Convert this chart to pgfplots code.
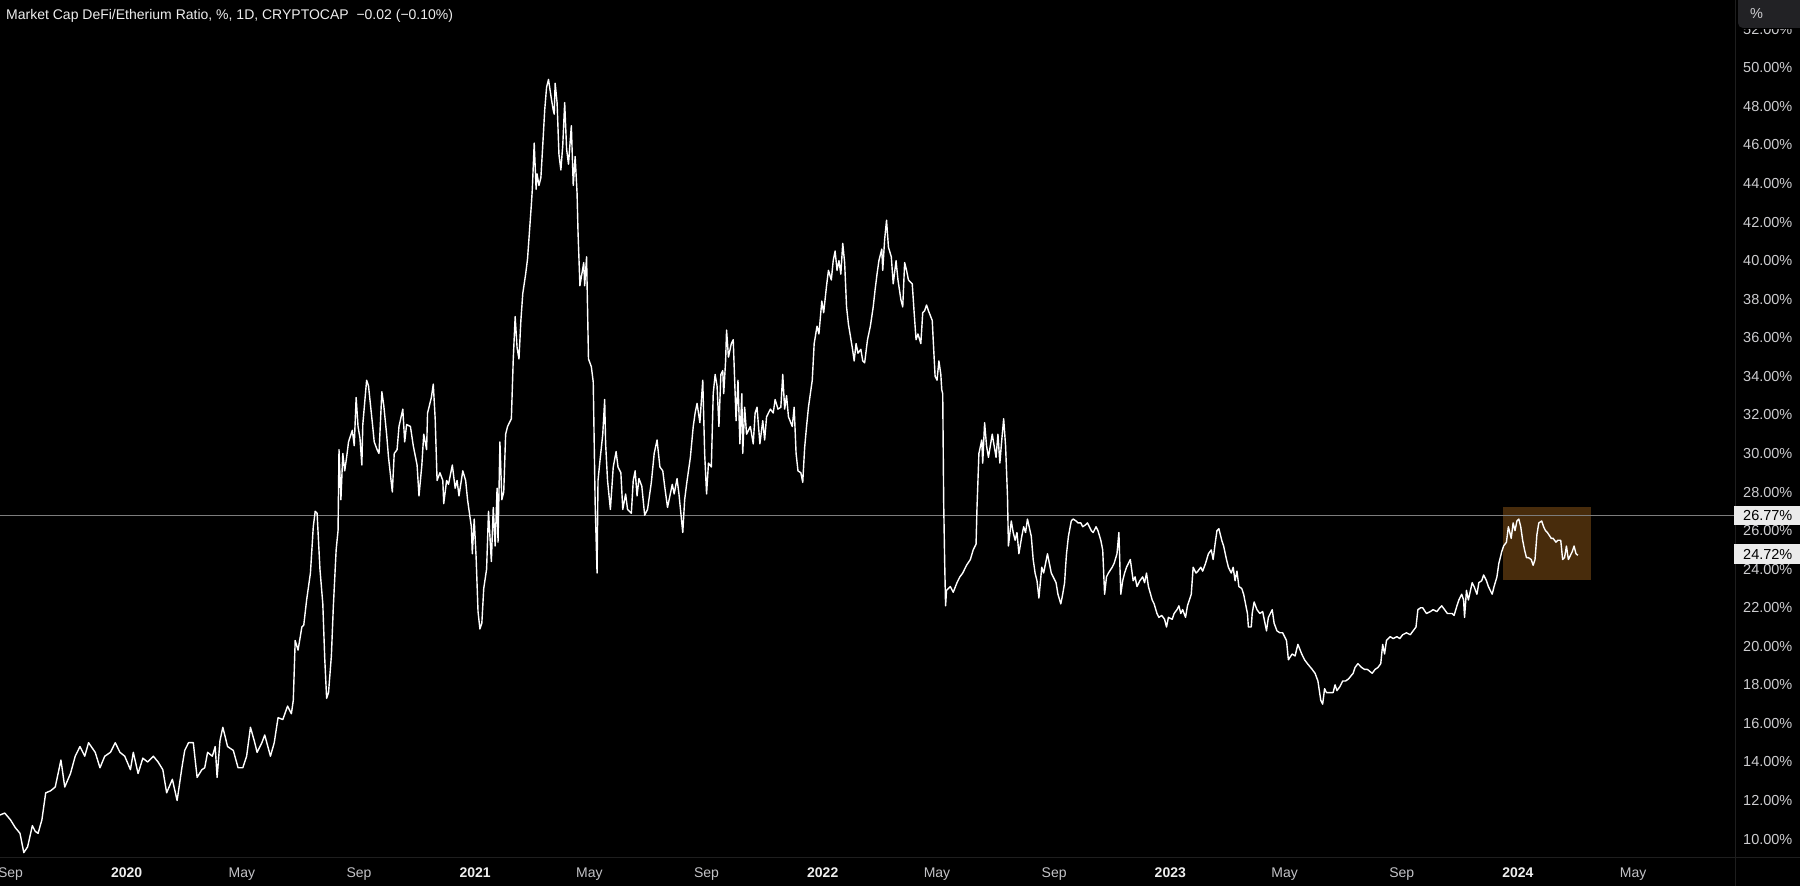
\documentclass[border=0pt]{standalone}
\usepackage{pgfplots}
\pgfplotsset{compat=1.18}
\usepackage{fontspec}
\setmainfont{Liberation Sans}
\definecolor{bg}{RGB}{0,0,0}
\definecolor{tickc}{RGB}{205,205,208}
\definecolor{yr}{RGB}{238,238,238}
\definecolor{mo}{RGB}{195,195,199}
\definecolor{boxc}{RGB}{72,44,12}
\definecolor{hline}{RGB}{125,125,125}
\definecolor{sepc}{RGB}{30,30,30}
\definecolor{btn}{RGB}{34,34,37}
\begin{document}
\begin{tikzpicture}[x=1pt,y=1pt]
\useasboundingbox (0,0) rectangle (1800,886);
\fill[bg] (0,0) rectangle (1800,886);
\begin{axis}[
  at={(0pt,28pt)}, anchor=south west,
  width=1735pt, height=858pt, scale only axis,
  xmin=0, xmax=1822, ymin=9.02, ymax=53.52,
  axis line style={draw=none},
  tick style={draw=none},
  ytick={10,12,...,52},
  yticklabel pos=right,
  yticklabel={\pgfmathprintnumber[assume math mode=true,fixed,fixed zerofill,precision=2]{\tick}\%},
  yticklabel style={anchor=west, inner sep=0pt, xshift=8pt, font=\fontsize{14.5}{16}\selectfont, text=tickc},
  xtick={11,133,254,377,499,619,742,864,984,1107,1229,1349,1472,1594,1715},
  xticklabels={{\color{mo}Sep},{\color{yr}\bfseries 2020},{\color{mo}May},{\color{mo}Sep},{\color{yr}\bfseries 2021},{\color{mo}May},{\color{mo}Sep},{\color{yr}\bfseries 2022},{\color{mo}May},{\color{mo}Sep},{\color{yr}\bfseries 2023},{\color{mo}May},{\color{mo}Sep},{\color{yr}\bfseries 2024},{\color{mo}May}},
  xticklabel style={anchor=base, inner sep=0pt, yshift=-20pt, font=\fontsize{14}{16}\selectfont},
  clip=false,
]
\fill[boxc] (axis cs:1578,23.44) rectangle (axis cs:1671,27.22);
\draw[hline, line width=1pt] (axis cs:0,26.77) -- (axis cs:1822,26.77);
\addplot[white, line width=1.4pt, line join=round] table[row sep=\\] {
x y\\
0 11.25\\ 5 11.35\\ 11 11.0\\ 16 10.6\\ 21 10.3\\ 25 9.3\\ 29 9.6\\ 34 10.7\\ 37 10.4\\ 40 10.3\\
44 11.0\\ 48 12.4\\ 53 12.5\\ 58 12.7\\ 64 14.1\\ 68 12.7\\ 74 13.4\\ 79 14.3\\ 84 14.8\\ 89 14.3\\
93 15.0\\ 100 14.5\\ 105 13.7\\ 110 14.3\\ 116 14.5\\ 121 15.0\\ 126 14.5\\ 131 14.3\\ 137 13.6\\ 140 14.5\\
145 13.4\\ 150 14.2\\ 155 14.0\\ 161 14.3\\ 166 14.0\\ 171 13.6\\ 175 12.4\\ 181 13.1\\ 186 12.0\\ 191 13.7\\
194 14.6\\ 198 15.0\\ 203 15.0\\ 207 13.2\\ 212 13.6\\ 215 13.7\\ 218 14.5\\ 223 14.3\\ 226 14.8\\ 228 13.2\\
231 15.1\\ 234 15.8\\ 239 14.8\\ 245 14.6\\ 250 13.7\\ 255 13.7\\ 259 14.3\\ 263 15.8\\ 267 15.1\\ 270 14.5\\
275 15.0\\ 278 15.4\\ 284 14.3\\ 288 15.0\\ 292 16.3\\ 297 16.2\\ 302 16.9\\ 306 16.5\\ 308 17.2\\ 310 20.3\\
313 19.8\\ 317 21.0\\ 319 21.1\\ 322 22.4\\ 326 23.8\\ 329 26.2\\ 331 27.0\\ 333 26.9\\ 336 24.0\\ 339 22.2\\
341 19.4\\ 343 17.3\\ 345 17.6\\ 348 19.5\\ 350 22.0\\ 353 25.0\\ 355 26.0\\ 356 30.2\\ 358 27.6\\ 360 30.0\\
362 29.1\\ 364 29.8\\ 366 30.6\\ 370 31.2\\ 372 30.4\\ 374 32.9\\ 376 31.4\\ 378 30.8\\ 380 29.4\\ 381 31.5\\
385 33.8\\ 387 33.5\\ 391 31.6\\ 393 30.6\\ 396 30.2\\ 398 30.0\\ 401 33.2\\ 403 32.5\\ 406 31.0\\ 408 29.8\\
412 28.0\\ 414 30.0\\ 417 30.2\\ 419 31.4\\ 423 32.3\\ 425 30.6\\ 427 31.5\\ 431 31.4\\ 434 30.4\\ 438 29.4\\
440 27.8\\ 443 29.4\\ 445 31.0\\ 448 30.2\\ 449 32.1\\ 453 32.9\\ 455 33.6\\ 457 31.8\\ 459 28.6\\ 462 29.0\\
465 28.6\\ 466 27.4\\ 469 28.6\\ 471 28.4\\ 475 29.4\\ 478 28.2\\ 480 28.6\\ 482 27.8\\ 486 29.1\\ 489 28.6\\
491 27.6\\ 495 26.2\\ 496 24.8\\ 498 26.6\\ 500 24.6\\ 502 21.8\\ 504 20.9\\ 506 21.2\\ 508 23.0\\ 511 24.0\\
513 27.0\\ 516 24.4\\ 518 27.2\\ 520 25.2\\ 522 28.2\\ 523 25.4\\ 525 30.6\\ 527 27.6\\ 529 28.0\\ 531 31.0\\
533 31.4\\ 537 31.8\\ 539 34.9\\ 541 37.1\\ 543 35.5\\ 545 34.9\\ 547 36.9\\ 549 38.3\\ 552 39.3\\ 554 40.1\\
558 42.9\\ 559 43.7\\ 561 46.1\\ 563 43.7\\ 564 44.5\\ 566 43.9\\ 568 44.3\\ 570 46.0\\ 572 47.8\\ 574 49.0\\
576 49.4\\ 579 48.4\\ 581 47.8\\ 582 47.6\\ 583 49.2\\ 585 48.2\\ 587 45.5\\ 589 44.7\\ 591 46.0\\ 593 48.2\\
595 45.8\\ 597 45.0\\ 600 47.0\\ 602 43.9\\ 604 45.4\\ 606 43.5\\ 607 41.5\\ 609 38.7\\ 611 39.3\\ 613 39.9\\
614 38.7\\ 616 40.2\\ 618 34.9\\ 621 34.5\\ 623 33.7\\ 625 27.4\\ 627 23.8\\ 628 28.6\\ 630 29.6\\ 633 31.0\\
635 32.8\\ 636 30.5\\ 638 28.6\\ 641 27.1\\ 644 29.3\\ 647 30.1\\ 649 29.3\\ 652 29.0\\ 654 27.1\\ 657 27.9\\
659 27.1\\ 663 26.9\\ 665 28.6\\ 667 29.1\\ 669 27.8\\ 671 28.7\\ 674 28.3\\ 677 26.8\\ 680 27.1\\ 684 28.5\\
687 30.0\\ 690 30.7\\ 693 29.3\\ 696 29.1\\ 698 28.3\\ 701 27.2\\ 706 28.4\\ 708 27.9\\ 711 28.7\\ 713 27.9\\
715 26.9\\ 717 25.9\\ 719 27.6\\ 721 28.4\\ 725 29.8\\ 728 31.4\\ 730 32.1\\ 732 32.6\\ 735 31.6\\ 738 33.8\\
740 30.0\\ 742 27.9\\ 744 29.5\\ 747 29.3\\ 749 33.1\\ 751 34.1\\ 753 33.5\\ 755 31.4\\ 757 34.1\\ 759 34.3\\
760 33.1\\ 762 34.8\\ 763 36.4\\ 765 35.0\\ 768 35.7\\ 770 35.9\\ 771 34.5\\ 773 31.7\\ 775 33.8\\ 777 30.5\\
779 33.1\\ 780 30.0\\ 782 32.4\\ 784 31.0\\ 788 31.4\\ 791 30.5\\ 793 32.1\\ 795 32.4\\ 798 30.5\\ 801 31.7\\
803 30.7\\ 805 31.9\\ 809 32.3\\ 812 32.1\\ 814 32.8\\ 817 32.3\\ 820 32.4\\ 822 34.1\\ 824 32.3\\ 826 33.0\\
828 31.9\\ 832 31.4\\ 834 32.4\\ 836 30.0\\ 838 29.1\\ 841 29.0\\ 843 28.5\\ 845 30.3\\ 847 31.4\\ 849 32.4\\
853 33.8\\ 855 35.7\\ 858 36.6\\ 860 36.2\\ 863 37.9\\ 865 37.3\\ 868 38.7\\ 870 39.5\\ 873 39.0\\ 875 40.0\\
877 40.5\\ 879 39.5\\ 881 40.0\\ 883 39.3\\ 885 40.9\\ 887 39.9\\ 889 37.6\\ 891 36.7\\ 895 35.5\\ 897 34.8\\
899 35.7\\ 901 35.2\\ 904 35.4\\ 906 34.8\\ 908 34.7\\ 911 35.9\\ 914 36.6\\ 917 37.6\\ 919 38.5\\ 921 39.3\\
923 40.0\\ 926 40.6\\ 927 39.5\\ 929 41.1\\ 931 42.1\\ 933 40.7\\ 936 40.2\\ 938 38.8\\ 941 40.0\\ 943 39.0\\
946 38.0\\ 948 37.6\\ 950 39.9\\ 952 39.5\\ 954 39.0\\ 958 38.8\\ 960 37.3\\ 962 35.9\\ 964 36.2\\ 967 35.7\\
969 37.3\\ 971 37.4\\ 973 37.7\\ 975 37.4\\ 979 36.9\\ 980 35.9\\ 982 34.0\\ 984 33.8\\ 986 34.8\\ 988 34.1\\
989 33.3\\ 990 33.1\\ 991 27.5\\ 992 24.5\\ 993 22.1\\ 994 22.9\\ 998 23.1\\ 1001 22.8\\ 1005 23.3\\ 1008 23.6\\
1011 23.8\\ 1015 24.2\\ 1019 24.5\\ 1022 25.0\\ 1025 25.3\\ 1026 27.2\\ 1028 30.0\\ 1031 30.7\\ 1032 29.5\\ 1034 31.6\\
1036 30.4\\ 1038 29.8\\ 1042 31.0\\ 1044 30.4\\ 1046 29.8\\ 1048 31.0\\ 1050 29.5\\ 1052 30.7\\ 1054 31.8\\ 1056 30.4\\
1058 27.8\\ 1059 25.2\\ 1062 26.5\\ 1064 25.9\\ 1066 25.5\\ 1068 25.9\\ 1070 24.8\\ 1073 25.7\\ 1075 26.2\\ 1077 25.9\\
1079 26.6\\ 1083 25.7\\ 1085 24.5\\ 1087 23.8\\ 1089 23.4\\ 1091 22.5\\ 1094 24.1\\ 1096 23.8\\ 1098 24.3\\ 1100 24.8\\
1104 23.8\\ 1106 23.6\\ 1109 23.3\\ 1111 22.7\\ 1114 22.2\\ 1116 22.7\\ 1118 23.3\\ 1119 24.1\\ 1120 24.8\\ 1122 25.7\\
1125 26.5\\ 1127 26.6\\ 1130 26.5\\ 1132 26.4\\ 1135 26.4\\ 1137 26.2\\ 1140 26.3\\ 1142 26.4\\ 1146 26.0\\ 1148 25.9\\
1151 26.2\\ 1153 26.0\\ 1156 25.5\\ 1158 25.0\\ 1160 22.7\\ 1162 23.6\\ 1164 23.8\\ 1168 24.1\\ 1170 24.3\\ 1173 24.8\\
1175 25.9\\ 1177 22.7\\ 1179 23.4\\ 1181 23.8\\ 1183 24.1\\ 1187 24.5\\ 1190 23.4\\ 1192 23.6\\ 1194 23.1\\ 1197 23.4\\
1200 23.6\\ 1202 23.3\\ 1204 23.8\\ 1206 23.1\\ 1210 22.4\\ 1212 22.2\\ 1215 21.7\\ 1217 21.5\\ 1220 21.6\\ 1223 21.4\\
1225 21.0\\ 1227 21.5\\ 1231 21.4\\ 1233 21.7\\ 1236 21.9\\ 1238 22.1\\ 1240 21.7\\ 1242 21.9\\ 1245 21.5\\ 1247 22.1\\
1251 22.7\\ 1253 24.1\\ 1256 23.8\\ 1258 23.9\\ 1261 24.1\\ 1263 23.9\\ 1266 24.3\\ 1269 24.8\\ 1272 25.0\\ 1274 24.5\\
1276 25.3\\ 1278 26.0\\ 1280 26.1\\ 1283 25.5\\ 1285 25.2\\ 1288 24.5\\ 1290 24.1\\ 1293 23.8\\ 1295 24.1\\ 1297 23.4\\
1299 23.9\\ 1301 23.1\\ 1304 23.0\\ 1306 22.7\\ 1308 22.2\\ 1310 21.7\\ 1311 21.0\\ 1314 21.0\\ 1315 21.7\\ 1317 22.3\\
1320 21.9\\ 1323 21.7\\ 1326 21.8\\ 1330 20.8\\ 1332 21.5\\ 1336 21.9\\ 1338 21.2\\ 1341 20.8\\ 1344 20.7\\ 1347 20.7\\
1351 20.3\\ 1353 19.3\\ 1357 19.6\\ 1360 19.5\\ 1363 20.1\\ 1367 19.6\\ 1370 19.3\\ 1373 19.1\\ 1378 18.8\\ 1381 18.6\\
1384 18.2\\ 1387 17.2\\ 1389 17.0\\ 1391 17.8\\ 1393 17.6\\ 1397 17.6\\ 1400 17.6\\ 1402 18.0\\ 1404 17.7\\ 1407 17.9\\
1410 18.2\\ 1413 18.2\\ 1416 18.3\\ 1421 18.6\\ 1423 18.9\\ 1426 19.1\\ 1430 18.9\\ 1433 18.8\\ 1436 18.8\\ 1441 18.6\\
1444 18.8\\ 1447 18.9\\ 1450 19.1\\ 1452 20.1\\ 1454 19.6\\ 1456 20.3\\ 1460 20.5\\ 1463 20.4\\ 1467 20.5\\ 1470 20.4\\
1473 20.6\\ 1477 20.7\\ 1481 20.6\\ 1484 20.8\\ 1487 21.0\\ 1489 21.9\\ 1492 22.0\\ 1494 22.0\\ 1498 21.7\\ 1502 21.8\\
1505 21.9\\ 1509 21.8\\ 1512 22.0\\ 1514 22.1\\ 1517 21.9\\ 1520 21.7\\ 1525 21.7\\ 1527 21.6\\ 1530 22.1\\ 1532 22.4\\
1535 22.7\\ 1537 22.4\\ 1538 21.5\\ 1540 22.9\\ 1542 22.4\\ 1546 23.3\\ 1548 23.1\\ 1551 22.7\\ 1553 23.3\\ 1556 23.4\\
1558 23.7\\ 1561 23.4\\ 1563 23.1\\ 1567 22.7\\ 1569 23.1\\ 1572 23.6\\ 1574 24.3\\ 1577 24.9\\ 1579 25.2\\ 1582 25.4\\
1584 26.2\\ 1587 25.6\\ 1589 26.4\\ 1591 26.0\\ 1593 26.5\\ 1595 26.6\\ 1597 26.2\\ 1599 25.5\\ 1601 25.0\\ 1603 24.6\\
1605 24.6\\ 1608 24.5\\ 1610 24.2\\ 1612 24.5\\ 1614 25.8\\ 1616 26.4\\ 1619 26.5\\ 1621 26.2\\ 1623 26.0\\ 1625 25.9\\
1629 25.6\\ 1631 25.6\\ 1634 25.4\\ 1636 25.5\\ 1639 25.5\\ 1641 24.5\\ 1643 24.6\\ 1645 25.2\\ 1647 24.5\\ 1651 24.9\\
1653 25.2\\ 1655 24.8\\ 1657 24.72\\
};
\end{axis}
\draw[sepc, line width=1pt] (1735,0) -- (1735,886);
\draw[sepc, line width=1pt] (0,28) -- (1800,28);
\fill[bg] (1736,857) rectangle (1800,886);
\fill[btn, rounded corners=5pt] (1738,858) rectangle (1808,895);
\node[anchor=base west, inner sep=0pt, text=tickc, font=\fontsize{14.5}{16}\selectfont] at (1750,867) {\%};
\fill[white!92!black] (1734,361) rectangle (1800,380);
\node[anchor=west, inner sep=0pt, text=black, font=\fontsize{14.5}{16}\selectfont] at (1743,370.5) {26.77\%};
\fill[white!92!black] (1734,322) rectangle (1800,342);
\node[anchor=west, inner sep=0pt, text=black, font=\fontsize{14.5}{16}\selectfont] at (1743,332) {24.72\%};
\node[anchor=base west, inner sep=0pt, text=yr, font=\fontsize{14}{16}\selectfont] at (6,866) {Market Cap DeFi/Etherium Ratio, \%, 1D, CRYPTOCAP\ \ −0.02 (−0.10\%)};
\end{tikzpicture}
\end{document}
